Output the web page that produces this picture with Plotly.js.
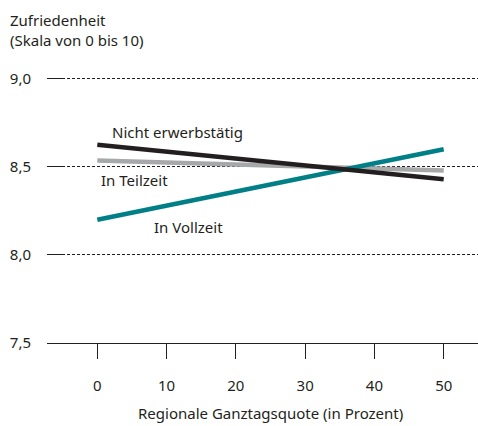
<!DOCTYPE html>
<html><head><meta charset="utf-8">
<script src="https://cdn.plot.ly/plotly-3.0.1.min.js"></script>
<style>html,body{margin:0;padding:0;background:#fff}#c{width:478px;height:426px}</style>
</head><body><div id="c"></div>
<script>
const xVals = [0, 50];
const nichtErwerbstaetig = [8.625, 8.43];
const inTeilzeit = [8.536, 8.48];
const inVollzeit = [8.20, 8.60];
const seriesNames = ['In Teilzeit', 'In Vollzeit', 'Nicht erwerbstätig'];
const xTicks = [0, 10, 20, 30, 40, 50];
const yTicks = [7.5, 8.0, 8.5, 9.0];
const yTitle = 'Zufriedenheit<br>(Skala von 0 bis 10)';
const xTitle = 'Regionale Ganztagsquote (in Prozent)';

const FONT = 'Noto Sans, sans-serif';
const traces = [
  {x: xVals, y: inTeilzeit, name: seriesNames[0], mode: 'lines', line: {color: '#a7a8aa', width: 4.5}},
  {x: xVals, y: inVollzeit, name: seriesNames[1], mode: 'lines', line: {color: '#007f86', width: 4.5}},
  {x: xVals, y: nichtErwerbstaetig, name: seriesNames[2], mode: 'lines', line: {color: '#231f20', width: 4.5}}
];
const layout = {
  width: 478, height: 426,
  margin: {l: 47, r: 0, t: 70, b: 83},
  paper_bgcolor: '#fff', plot_bgcolor: '#fff',
  showlegend: false,
  separators: ',.',
  font: {family: FONT, size: 15, color: '#231f20'},
  xaxis: {range: [-7.26, 54.95], tickvals: xTicks, ticks: 'outside', ticklen: 15, tickcolor: '#231f20',
          tickwidth: 1, showline: true, linecolor: '#231f20', linewidth: 1, showgrid: false, zeroline: false,
          ticklabelstandoff: 14, fixedrange: true},
  yaxis: {range: [7.5, 9.05], tickvals: yTicks, tickformat: '.1f', ticks: 'inside', ticklen: 15,
          tickcolor: '#231f20', tickwidth: 1, showline: false, showgrid: true, gridcolor: '#231f20',
          griddash: '3px,2px', gridwidth: 1, zeroline: false, ticklabelstandoff: 15, fixedrange: true},
  annotations: [
    {x: 1.8, y: 8.70, text: seriesNames[2], showarrow: false, xanchor: 'left', yanchor: 'middle'},
    {x: 0.3, y: 8.427, text: seriesNames[0], showarrow: false, xanchor: 'left', yanchor: 'middle'},
    {x: 7.9, y: 8.16, text: seriesNames[1], showarrow: false, xanchor: 'left', yanchor: 'middle'},
    {xref: 'paper', yref: 'paper', x: (8 - 47) / 431, y: 1, xanchor: 'left', yanchor: 'bottom', yshift: 18,
     align: 'left', text: yTitle, showarrow: false},
    {xref: 'x', yref: 'paper', x: 25, y: 0, xanchor: 'center', yanchor: 'middle', yshift: -70,
     text: xTitle, showarrow: false}
  ]
};
Plotly.newPlot('c', traces, layout, {displayModeBar: false, staticPlot: true});
</script></body></html>
